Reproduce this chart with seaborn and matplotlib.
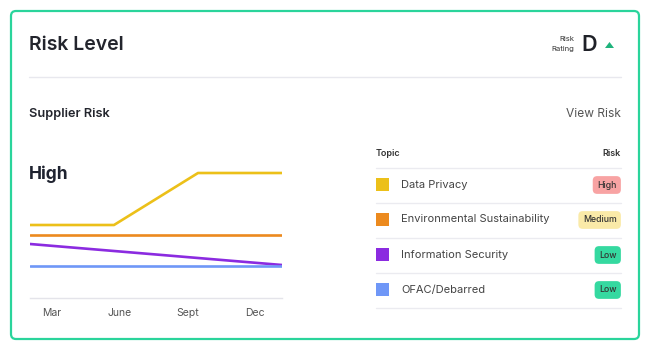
import pandas as pd
import numpy as np
import seaborn as sns
import matplotlib.pyplot as plt
from matplotlib.patches import FancyBboxPatch, Rectangle, Polygon

# Data
months = ['Mar', 'June', 'Sept', 'Dec']
topics = ['Data Privacy', 'Environmental Sustainability', 'Information Security', 'OFAC/Debarred']
risk_levels = ['High', 'Medium', 'Low', 'Low']
data_privacy = [73, 73, 125, 125]
environmental = [63, 63, 63, 63]
info_security = [54, 47, 40, 33]
ofac = [32, 32, 32, 32]

line_colors = ['#ecc019', '#ec8a1e', '#8b2be0', '#6f97f7']
badge_colors = {'High': '#f8a3a3', 'Medium': '#faeaa8', 'Low': '#35d9a0'}

sns.set_style('white')
plt.rcParams['font.family'] = ['Inter', 'DejaVu Sans']

W, H = 650, 364
fig = plt.figure(figsize=(W / 100, H / 100), dpi=100)

# background layer in pixel coordinates
bg = fig.add_axes([0, 0, 1, 1])
bg.set_xlim(0, W)
bg.set_ylim(H, 0)
bg.axis('off')

bg.add_patch(FancyBboxPatch((11, 11), 628, 328, boxstyle='round,pad=0,rounding_size=5',
                            fc='white', ec='#2ad49b', lw=1.6))
bg.plot([29, 621], [77, 77], color='#e8e8ee', lw=1)

bg.text(29, 45, 'Risk Level', fontsize=14, fontweight='semibold', color='#23252d', va='center')
bg.text(574, 39, 'Risk', fontsize=5.5, color='#333', ha='right', va='center')
bg.text(574, 49, 'Rating', fontsize=5.5, color='#333', ha='right', va='center')
bg.text(581, 45, 'D', fontsize=15.5, fontweight='semibold', color='#1f2128', va='center')
bg.add_patch(Polygon([[605, 48], [614, 48], [609.5, 42]], closed=True, fc='#1fb37c', ec='none'))

bg.text(29, 114, 'Supplier Risk', fontsize=9.2, fontweight='semibold', color='#23252d', va='center')
bg.text(621, 114, 'View Risk', fontsize=8.6, color='#555', ha='right', va='center')
bg.text(29, 174, 'High', fontsize=12.5, fontweight='bold', color='#1f2330', va='center')

# table
bg.text(376, 154, 'Topic', fontsize=6.5, fontweight='semibold', color='#333', va='center')
bg.text(621, 154, 'Risk', fontsize=6.5, fontweight='semibold', color='#333', ha='right', va='center')
row_h = 35
for i in range(5):
    y = 168 + i * row_h
    bg.plot([376, 621], [y, y], color='#ebebf0', lw=1)
for i, (topic, level, col) in enumerate(zip(topics, risk_levels, line_colors)):
    yc = 184.5 + i * row_h
    bg.add_patch(Rectangle((376, yc - 6.5), 13, 13, fc=col, ec='none'))
    bg.text(401, yc, topic, fontsize=8, color='#444', va='center')
    bg.text(616.5, yc + 0.5, level, fontsize=6.3, fontweight='medium', color='#333',
            ha='right', va='center',
            bbox=dict(boxstyle='round,pad=0.5,rounding_size=0.5', fc=badge_colors[level], ec='none'))

# line chart
rows = []
for topic, vals in zip(topics, [data_privacy, environmental, info_security, ofac]):
    for j, v in enumerate(vals):
        rows.append({'month': j, 'topic': topic, 'score': v})
df = pd.DataFrame(rows)

ax = fig.add_axes([30 / W, (H - 298) / H, 252 / W, 140 / H])
ax.patch.set_alpha(0)
sns.lineplot(data=df, x='month', y='score', hue='topic', palette=line_colors,
             linewidth=1.9, legend=False, ax=ax)
ax.set_xlim(0, 3)
ax.set_ylim(0, 140)
ax.set_xticks(np.linspace(0.26, 2.68, 4))
ax.set_xticklabels(months, fontsize=7.5, color='#555')
ax.set_yticks([])
ax.set_xlabel('')
ax.set_ylabel('')
ax.tick_params(axis='x', length=0, pad=7)
for s in ['left', 'right', 'top']:
    ax.spines[s].set_visible(False)
ax.spines['bottom'].set_color('#e4e4ea')
ax.spines['bottom'].set_linewidth(1)

fig.savefig('out.png', dpi=100)
